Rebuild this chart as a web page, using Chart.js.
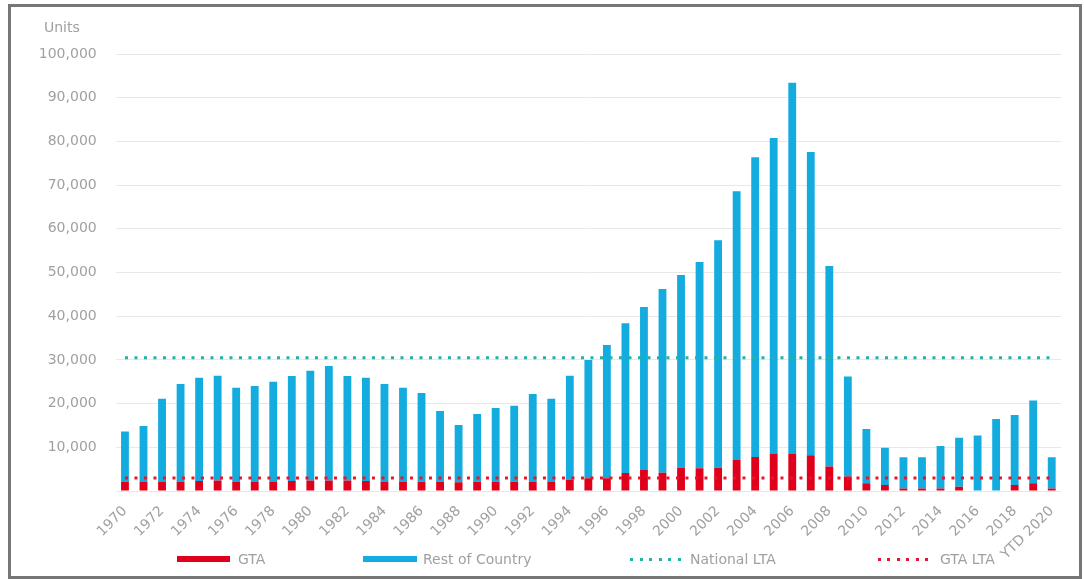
<!DOCTYPE html>
<html>
<head>
<meta charset="utf-8">
<script src="https://cdn.jsdelivr.net/npm/chart.js@4.4.1/dist/chart.umd.min.js"></script>
<style>
  html, body { margin: 0; padding: 0; background: #ffffff; }
  #frame { position: absolute; left: 8px; top: 4px; width: 1074px; height: 575px; border: 3px solid #767676; box-sizing: border-box; }
  #wrap { position: absolute; left: 11px; top: 7px; width: 1068px; height: 566px; }
  .lg { position: absolute; font: 14px "DejaVu Sans", sans-serif; color: #a0a0a0; line-height: 16px; white-space: nowrap; }
  .sw { position: absolute; height: 6px; }
  .dot { position: absolute; height: 3px; }
</style>
</head>
<body>
<div id="frame"></div>
<div id="wrap"><canvas id="c"></canvas></div>

<div class="sw" style="left:177px; top:556px; width:53px; background:#e0001b;"></div>
<div class="lg" style="left:238px; top:551px;">GTA</div>
<div class="sw" style="left:363px; top:556px; width:54px; background:#14acdf;"></div>
<div class="lg" style="left:423px; top:551px;">Rest of Country</div>
<div class="dot" style="left:630px; top:558px; width:54px; background:repeating-linear-gradient(90deg,#21b3a5 0 3px,transparent 3px 9.5px);"></div>
<div class="lg" style="left:690px; top:551px;">National LTA</div>
<div class="dot" style="left:878px; top:558px; width:56px; background:repeating-linear-gradient(90deg,#e8142a 0 3px,transparent 3px 9.5px);"></div>
<div class="lg" style="left:940px; top:551px;">GTA LTA</div>

<script>
// ---- data ----
const categories = ['1970','1971','1972','1973','1974','1975','1976','1977','1978','1979',
  '1980','1981','1982','1983','1984','1985','1986','1987','1988','1989',
  '1990','1991','1992','1993','1994','1995','1996','1997','1998','1999',
  '2000','2001','2002','2003','2004','2005','2006','2007','2008','2009',
  '2010','2011','2012','2013','2014','2015','2016','2017','2018','2019','YTD 2020'];

// GTA units (red, bottom of each stack)
const gtaUnits = [2100, 2200, 2200, 2200, 2300, 2400, 2200, 2200, 2200, 2300,
  2400, 2400, 2400, 2300, 2200, 2200, 2100, 2100, 2000, 2100,
  2100, 2100, 2200, 2200, 2500, 2900, 2900, 4100, 4800, 4200,
  5300, 5200, 5300, 7100, 7800, 8600, 8600, 8200, 5600, 3300,
  1800, 1400, 600, 600, 600, 1000, 0, 0, 1400, 1800, 600];

// Rest of Country units (blue, stacked above GTA)
const restUnits = [11500, 12700, 18900, 22300, 23600, 24000, 21400, 21800, 22800, 24000,
  25100, 26200, 23900, 23600, 22300, 21400, 20300, 16200, 13100, 15500,
  16900, 17400, 20000, 18900, 23900, 27100, 30500, 34300, 37300, 42000,
  44100, 47200, 52100, 61500, 68600, 72200, 84800, 69400, 45900, 22900,
  12400, 8500, 7100, 7100, 9700, 11200, 12700, 16500, 16000, 18900, 7100];

const nationalLTA = 30500;
const gtaLTA = 3000;

const yTicks = [0, 10000, 20000, 30000, 40000, 50000, 60000, 70000, 80000, 90000, 100000];
const unitsLabel = 'Units';

// ---- styles ----
const RED = '#e0001b';
const BLUE = '#14acdf';
const TEAL = '#21b3a5';
const RED_DOT = '#e8142a';
const TEXT = '#a0a0a0';
const FONT = '"DejaVu Sans", sans-serif';

const unitsPlugin = {
  id: 'unitsLabel',
  afterDraw(chart) {
    const ctx = chart.ctx;
    ctx.save();
    ctx.font = '14px ' + FONT;
    ctx.fillStyle = TEXT;
    ctx.textAlign = 'left';
    ctx.textBaseline = 'middle';
    ctx.fillText(unitsLabel, 33, 21);
    ctx.restore();
  }
};

const first = categories[0];
const last = categories[categories.length - 1];

new Chart(document.getElementById('c'), {
  type: 'bar',
  data: {
    labels: categories,
    datasets: [
      { label: 'GTA', data: gtaUnits, backgroundColor: RED, stack: 'units', order: 1,
        categoryPercentage: 0.9, barPercentage: 0.47 },
      { label: 'Rest of Country', data: restUnits, backgroundColor: BLUE, stack: 'units', order: 1,
        categoryPercentage: 0.9, barPercentage: 0.47 },
      { type: 'line', label: 'National LTA', stack: 'nat', order: 0,
        data: [{x: first, y: nationalLTA}, {x: last, y: nationalLTA}],
        borderColor: TEAL, borderWidth: 3, borderDash: [3, 6.5], pointRadius: 0, fill: false },
      { type: 'line', label: 'GTA LTA', stack: 'gta', order: 0,
        data: [{x: first, y: gtaLTA}, {x: last, y: gtaLTA}],
        borderColor: RED_DOT, borderWidth: 3, borderDash: [3, 6.5], pointRadius: 0, fill: false }
    ]
  },
  options: {
    responsive: true,
    maintainAspectRatio: false,
    animation: false,
    layout: { padding: { left: 10, right: 18, top: 47, bottom: 12 } },
    plugins: {
      legend: { display: false },
      tooltip: { enabled: false },
      title: { display: false }
    },
    scales: {
      x: {
        stacked: true,
        grid: { display: false, drawTicks: false },
        border: { display: false },
        ticks: {
          autoSkip: false,
          maxRotation: 45, minRotation: 45,
          padding: 12,
          color: TEXT,
          font: { family: FONT, size: 14 },
          callback: function(value, index) { return index % 2 === 0 ? this.getLabelForValue(value) : ''; }
        },
        afterFit(scale) { scale.height = 70; }
      },
      y: {
        stacked: true,
        min: 0, max: 100000,
        grid: { color: '#e8e8e8', lineWidth: 1, drawTicks: false },
        border: { display: false },
        afterBuildTicks(scale) { scale.ticks = yTicks.map(v => ({ value: v })); },
        ticks: {
          padding: 19,
          color: TEXT,
          font: { family: FONT, size: 14 },
          callback: (v) => v === 0 ? '' : v.toLocaleString('en-US')
        },
        afterFit(scale) { scale.width = 94.7; }
      }
    }
  },
  plugins: [unitsPlugin]
});
</script>
</body>
</html>
